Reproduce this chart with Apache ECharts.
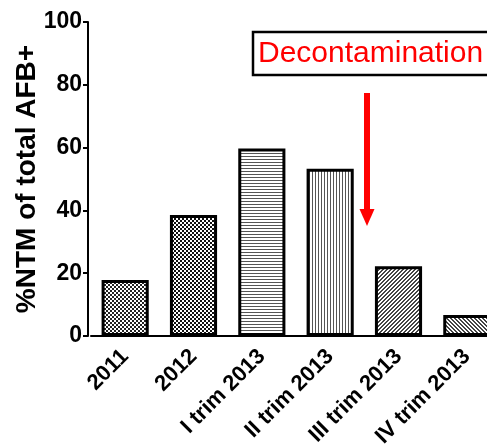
<!DOCTYPE html>
<html><head><meta charset="utf-8">
<script src="https://cdn.jsdelivr.net/npm/echarts@6/dist/echarts.min.js"></script>
<style>html,body{margin:0;padding:0;background:#fff}#c{width:487px;height:446px}</style>
</head><body><div id="c"></div>
<script>
const categories = ['2011', '2012', 'I trim 2013', 'II trim 2013', 'III trim 2013', 'IV trim 2013'];
const values = [17.8, 38.5, 59.7, 53.3, 22.2, 6.7];
const yTicks = [0, 20, 40, 60, 80, 100];
const patternKinds = ['checker', 'checker2', 'hlines', 'vlines', 'diag1', 'diag2'];

function makePattern(kind) {
  const c = document.createElement('canvas');
  const ctx = c.getContext('2d');
  if (kind === 'checker' || kind === 'checker2') {
    c.width = 4; c.height = 4;
    ctx.fillStyle = '#fff'; ctx.fillRect(0, 0, 4, 4);
    ctx.fillStyle = kind === 'checker' ? '#222' : '#111';
    ctx.fillRect(0, 0, 2, 2); ctx.fillRect(2, 2, 2, 2);
  } else if (kind === 'hlines') {
    c.width = 4; c.height = 3;
    ctx.fillStyle = '#fff'; ctx.fillRect(0, 0, 4, 3);
    ctx.fillStyle = '#555'; ctx.fillRect(0, 0, 4, 1);
  } else if (kind === 'vlines') {
    c.width = 3; c.height = 4;
    ctx.fillStyle = '#fff'; ctx.fillRect(0, 0, 3, 4);
    ctx.fillStyle = '#555'; ctx.fillRect(0, 0, 1, 4);
  } else {
    c.width = 4; c.height = 4;
    ctx.fillStyle = '#fff'; ctx.fillRect(0, 0, 4, 4);
    ctx.fillStyle = '#444';
    for (let i = 0; i < 4; i++) {
      const x = kind === 'diag1' ? 3 - i : i;
      ctx.fillRect(x, i, 1, 1);
      ctx.fillRect((x + 1) % 4, i, 1, 1);
    }
  }
  return { image: c, repeat: 'repeat' };
}

const font = 'Liberation Sans, Arial, sans-serif';
const chart = echarts.init(document.getElementById('c'), null, { renderer: 'canvas' });
chart.setOption({
  animation: false,
  grid: { left: 91, top: 22, bottom: 110, width: 410, outerBoundsMode: 'none', containLabel: false },
  xAxis: {
    type: 'category',
    data: categories,
    axisLine: { lineStyle: { color: '#000', width: 2 } },
    axisTick: { alignWithLabel: true, length: 6, lineStyle: { color: '#000', width: 2 } },
    axisLabel: { rotate: 45, color: '#000', fontFamily: font, fontWeight: 'bold', fontSize: 22, margin: 17 }
  },
  yAxis: {
    type: 'value', min: 0, max: 100, interval: 20,
    offset: 3,
    name: '%NTM of total AFB+',
    nameLocation: 'middle', nameGap: 47, nameMoveOverlap: false,
    nameTextStyle: { color: '#000', fontFamily: font, fontWeight: 'bold', fontSize: 28 },
    axisLine: { show: true, lineStyle: { color: '#000', width: 2 } },
    axisTick: { show: true, length: 5, lineStyle: { color: '#000', width: 2 } },
    axisLabel: { color: '#000', fontFamily: font, fontWeight: 'bold', fontSize: 23, margin: 6,
      formatter: v => yTicks.includes(v) ? String(v) : '' },
    splitLine: { show: false }
  },
  series: [{
    type: 'bar',
    barWidth: '69%',
    data: values.map((v, i) => ({
      value: v,
      itemStyle: { color: makePattern(patternKinds[i]), borderColor: '#000', borderWidth: 3 }
    }))
  }],
  graphic: [
    { type: 'rect', shape: { x: 253, y: 32, width: 260, height: 43 },
      style: { fill: '#fff', stroke: '#000', lineWidth: 2.5 }, z: 10 },
    { type: 'text', x: 258, y: 54, z: 11,
      style: { text: 'Decontamination', fill: '#ff0000', font: '30px Liberation Sans, Arial, sans-serif', textVerticalAlign: 'middle' } },
    { type: 'rect', shape: { x: 364, y: 93, width: 6, height: 118 }, style: { fill: '#ff0000' }, z: 10 },
    { type: 'polygon', shape: { points: [[359.5, 209], [374.5, 209], [367, 226]] }, style: { fill: '#ff0000' }, z: 10 }
  ]
});
</script></body></html>
